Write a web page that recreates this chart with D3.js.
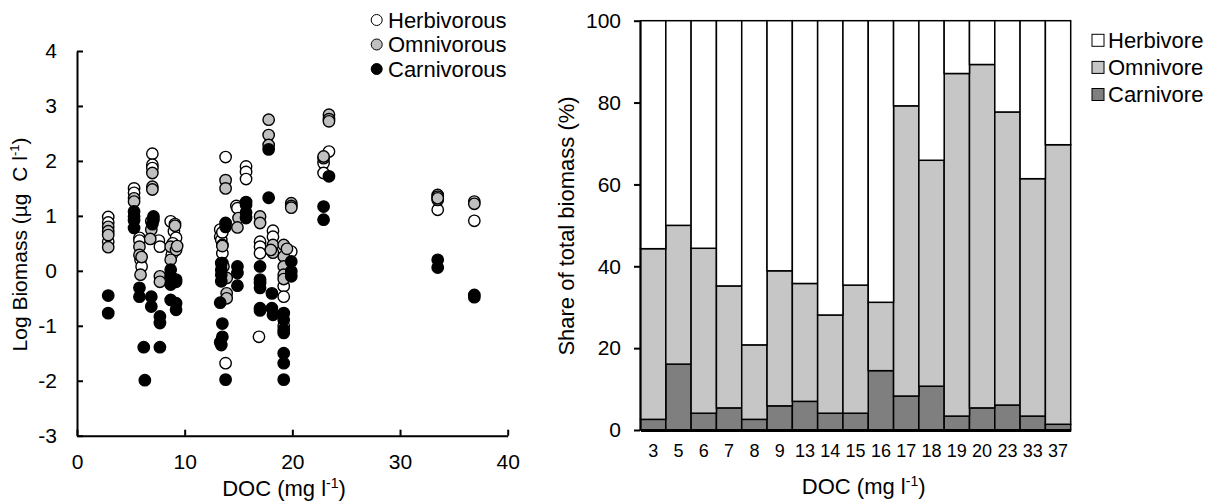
<!DOCTYPE html>
<html>
<head>
<meta charset="utf-8">
<script src="https://cdn.jsdelivr.net/npm/d3@7"></script>
<style>
  body { margin: 0; background: #fff; }
  svg { font-family: "Liberation Sans", Arial, sans-serif; }
</style>
</head>
<body>
<div id="chart"></div>
<script>
// scatter data: [DOC, log biomass]
var herbivorous = [
  [2.9, 0.98], [2.9, 0.88], [2.9, 0.53],
  [5.3, 1.5], [5.3, 1.42],
  [5.8, 0.6], [5.8, 0.55], [5.9, 0.2], [6.0, 0.08],
  [7.0, 2.13], [7.0, 1.93], [7.0, 1.87], [7.6, 0.55], [7.7, 0.44],
  [8.7, 0.9], [9.1, 0.85], [9.0, 0.72], [9.2, 0.6], [8.8, 0.29], [8.9, 0.5],
  [13.8, 2.07], [13.3, 0.75], [13.3, 0.62], [13.4, 0.56], [13.5, 0.32], [13.8, -1.68], [13.5, 0.7],
  [15.7, 1.9], [15.7, 1.8], [15.7, 1.67], [14.8, 1.18], [14.9, 1.14],
  [17.0, 0.53], [17.0, 0.44], [17.0, 0.32], [16.9, -1.2],
  [18.2, 0.73], [18.2, 0.62],
  [19.2, -0.28], [19.2, -0.47], [19.2, -1.0], [19.9, 0.35], [19.6, 0.1],
  [23.4, 2.17], [22.9, 1.96], [22.9, 1.78], [22.9, 2.05],
  [33.5, 1.38], [33.5, 1.11],
  [36.9, 0.91]
];
var omnivorous = [
  [2.9, 0.8], [2.9, 0.72], [2.9, 0.43], [2.9, 0.65],
  [5.3, 1.32], [5.3, 1.26],
  [5.8, 0.44], [5.8, 0.29], [5.9, -0.07], [6.0, 0.25],
  [7.0, 1.78], [7.0, 1.53], [7.0, 1.48], [6.9, 0.9], [6.9, 0.75], [6.8, 0.58], [7.7, -0.1], [7.7, -0.2],
  [9.1, 0.82], [8.7, 0.44], [9.2, 0.38], [8.7, 0.2], [9.3, 0.45],
  [13.8, 1.65], [13.8, 1.5], [13.5, 0.47], [13.5, 0.45], [13.5, 0.14], [13.9, -0.13], [13.9, -0.41], [13.9, -0.5], [13.6, 0.08],
  [15.0, 0.96], [14.9, 0.79],
  [17.0, 0.99], [17.0, 0.87],
  [17.8, 2.75], [17.8, 2.47], [17.8, 2.29], [18.2, 0.47], [18.2, 0.33], [18.0, 0.38],
  [19.2, 0.47], [19.2, 0.26], [19.2, 0.08], [19.2, -0.07], [19.2, -0.15], [19.5, 0.4],
  [19.9, 1.23], [19.9, 1.18], [19.9, 1.15],
  [23.4, 2.84], [23.4, 2.76], [22.9, 2.08], [23.4, 2.72],
  [33.5, 1.35], [33.5, 1.29], [33.5, 1.32],
  [36.9, 1.26], [36.9, 1.22]
];
var carnivorous = [
  [2.9, -0.45], [2.9, -0.77],
  [5.3, 1.08], [5.3, 0.99], [5.3, 0.78], [5.3, 0.92],
  [5.8, -0.31], [5.8, -0.47], [6.2, -1.39], [6.3, -1.99],
  [7.1, 0.99], [7.1, 0.93], [7.0, 0.85],
  [6.9, -0.47], [6.9, -0.65],
  [7.7, -0.83], [7.7, -0.95], [7.7, -1.39],
  [8.7, 0.02], [8.7, -0.1], [9.2, -0.16], [8.7, -0.25], [8.7, -0.53], [9.2, -0.59], [9.2, -0.71], [9.2, -0.2],
  [13.8, 0.87], [13.8, 0.8], [13.4, 0.14], [13.4, 0.02], [13.4, -0.07], [13.4, -0.19], [13.3, -0.58],
  [13.5, -0.96], [13.5, -1.2], [13.3, -1.3], [13.4, -1.35], [13.8, -1.98],
  [15.7, 1.25], [15.7, 1.2], [15.7, 1.06], [15.7, 0.96], [14.9, 0.08], [14.9, -0.04], [14.9, -0.27],
  [17.0, 0.08], [17.0, -0.16], [17.0, -0.22], [17.0, -0.31], [17.0, -0.68], [17.0, -0.72],
  [17.8, 2.21], [17.8, 1.33], [18.1, -0.41], [18.1, -0.68], [18.2, -0.8],
  [19.2, -0.77], [19.2, -0.89], [19.2, -1.07], [19.2, -1.13], [19.2, -1.5], [19.2, -1.68], [19.2, -1.98],
  [19.9, 0.17], [19.9, -0.01], [19.9, -0.1],
  [23.4, 1.72], [22.9, 1.17], [22.9, 0.93],
  [33.5, 0.2], [33.5, 0.06],
  [36.9, -0.44], [36.9, -0.48]
];

// bar data (% of total biomass)
var docClasses = ["3", "5", "6", "7", "8", "9", "13", "14", "15", "16", "17", "18", "19", "20", "23", "33", "37"];
var carnivore = [2.6, 16.1, 4.1, 5.4, 2.6, 5.9, 7.0, 4.1, 4.1, 14.5, 8.3, 10.7, 3.4, 5.4, 6.1, 3.4, 1.4];
var omnivore = [41.7, 33.9, 40.3, 29.8, 18.2, 33.0, 28.8, 24.0, 31.3, 16.7, 70.9, 55.2, 83.7, 83.9, 71.6, 58.0, 68.3];
var herbivore = [55.7, 50.0, 55.6, 64.8, 79.2, 61.1, 64.2, 71.9, 64.6, 68.8, 20.8, 34.1, 12.9, 10.7, 22.3, 38.6, 30.3];

var svg = d3.select("#chart").append("svg")
  .attr("width", 1217)
  .attr("height", 502);

// ---------- left: scatter ----------
var xscale = d3.scaleLinear().domain([0, 40]).range([77, 507.7]);
var yscale = d3.scaleLinear().domain([-3, 4]).range([435.7, 51]);

var xaxis = svg.append("g")
  .attr("transform", "translate(0, 435.7)")
  .call(d3.axisBottom(xscale).tickValues([0, 10, 20, 30, 40]).tickSizeInner(-6).tickSizeOuter(0).tickPadding(18));
var yaxis = svg.append("g")
  .attr("transform", "translate(77, 0)")
  .call(d3.axisLeft(yscale).ticks(7).tickFormat(d => String(d)).tickSizeInner(-6).tickSizeOuter(0).tickPadding(20));

[xaxis, yaxis].forEach(function(g) {
  g.selectAll("path, line").attr("stroke", "#000").attr("stroke-width", 2);
  g.selectAll("text").attr("font-size", "21px").attr("fill", "#000")
    .attr("font-family", "Liberation Sans, Arial, sans-serif");
});

var series = [
  {name: "Herbivorous", data: herbivorous, fill: "#ffffff"},
  {name: "Omnivorous", data: omnivorous, fill: "#c0c0c0"},
  {name: "Carnivorous", data: carnivorous, fill: "#000000"}
];

series.forEach(function(s) {
  svg.append("g").selectAll("circle").data(s.data).enter()
    .append("circle")
    .attr("cx", d => xscale(d[0]))
    .attr("cy", d => yscale(d[1]))
    .attr("r", 5.7)
    .attr("fill", s.fill)
    .attr("stroke", "#000")
    .attr("stroke-width", 1.4);
});

// scatter legend
var leg1 = svg.append("g");
series.forEach(function(s, i) {
  var y = 20 + i * 24.5;
  leg1.append("circle").attr("cx", 376.7).attr("cy", y).attr("r", 5.5)
    .attr("fill", s.fill).attr("stroke", "#000").attr("stroke-width", 1);
  leg1.append("text").attr("x", 388).attr("y", y).attr("dy", "0.36em")
    .attr("font-size", "22px").text(s.name);
});

// axis titles
var xt1 = svg.append("text")
  .attr("x", 284).attr("y", 496)
  .attr("text-anchor", "middle").attr("font-size", "22px");
xt1.append("tspan").text("DOC (mg l");
xt1.append("tspan").attr("font-size", "14px").attr("dy", "-8").text("-1");
xt1.append("tspan").attr("dy", "8").text(")");

var yt1 = svg.append("text")
  .attr("transform", "translate(27, 244.5) rotate(-90)")
  .attr("text-anchor", "middle").attr("font-size", "21px");
yt1.append("tspan").text("Log Biomass (\u00b5g \u00a0C l");
yt1.append("tspan").attr("font-size", "13px").attr("dy", "-8").text("-1");
yt1.append("tspan").attr("dy", "8").text(")");

// ---------- right: stacked bars ----------
var xband = d3.scaleBand().domain(docClasses).range([640.5, 1070.7]).padding(0);
var ybar = d3.scaleLinear().domain([0, 100]).range([430, 20.7]);

var rows = docClasses.map(function(c, i) {
  return {doc: c, Carnivore: carnivore[i], Omnivore: omnivore[i], Herbivore: herbivore[i]};
});
var keys = ["Carnivore", "Omnivore", "Herbivore"];
var colors = {Herbivore: "#ffffff", Omnivore: "#c6c6c6", Carnivore: "#7f7f7f"};
var stacked = d3.stack().keys(keys)(rows);

svg.append("g").selectAll("g").data(stacked).enter()
  .append("g")
  .attr("fill", d => colors[d.key])
  .selectAll("rect").data(d => d).enter()
  .append("rect")
  .attr("x", d => xband(d.data.doc))
  .attr("y", d => ybar(d[1]))
  .attr("width", xband.bandwidth())
  .attr("height", d => ybar(d[0]) - ybar(d[1]))
  .attr("stroke", "#000")
  .attr("stroke-width", 1.5);

var ybaxis = svg.append("g")
  .attr("transform", "translate(640, 0)")
  .call(d3.axisLeft(ybar).tickValues([0, 20, 40, 60, 80, 100]).tickSizeInner(6).tickSizeOuter(0).tickPadding(13));
var xbaxis = svg.append("g")
  .attr("transform", "translate(0, 430)")
  .call(d3.axisBottom(xband).tickSize(0).tickPadding(14.5));

[ybaxis, xbaxis].forEach(function(g) {
  g.selectAll("path, line").attr("stroke", "#000").attr("stroke-width", 2);
  g.selectAll("text").attr("fill", "#000")
    .attr("font-family", "Liberation Sans, Arial, sans-serif");
});
ybaxis.selectAll("text").attr("font-size", "21px");
xbaxis.selectAll("text").attr("font-size", "18px");
xbaxis.select("path").attr("stroke-width", 3);

// bar legend
var leg2 = svg.append("g");
["Herbivore", "Omnivore", "Carnivore"].forEach(function(k, i) {
  var y = 40.3 + i * 27.1;
  leg2.append("rect").attr("x", 1092).attr("y", y - 6).attr("width", 12).attr("height", 12)
    .attr("fill", colors[k]).attr("stroke", "#000").attr("stroke-width", 1);
  leg2.append("text").attr("x", 1108).attr("y", y).attr("dy", "0.36em")
    .attr("font-size", "22px").text(k);
});

var xt2 = svg.append("text")
  .attr("x", 863.7).attr("y", 494)
  .attr("text-anchor", "middle").attr("font-size", "22px");
xt2.append("tspan").text("DOC (mg l");
xt2.append("tspan").attr("font-size", "14px").attr("dy", "-8").text("-1");
xt2.append("tspan").attr("dy", "8").text(")");

svg.append("text")
  .attr("transform", "translate(574, 226) rotate(-90)")
  .attr("text-anchor", "middle").attr("font-size", "22px")
  .text("Share of total biomass (%)");
</script>
</body>
</html>
